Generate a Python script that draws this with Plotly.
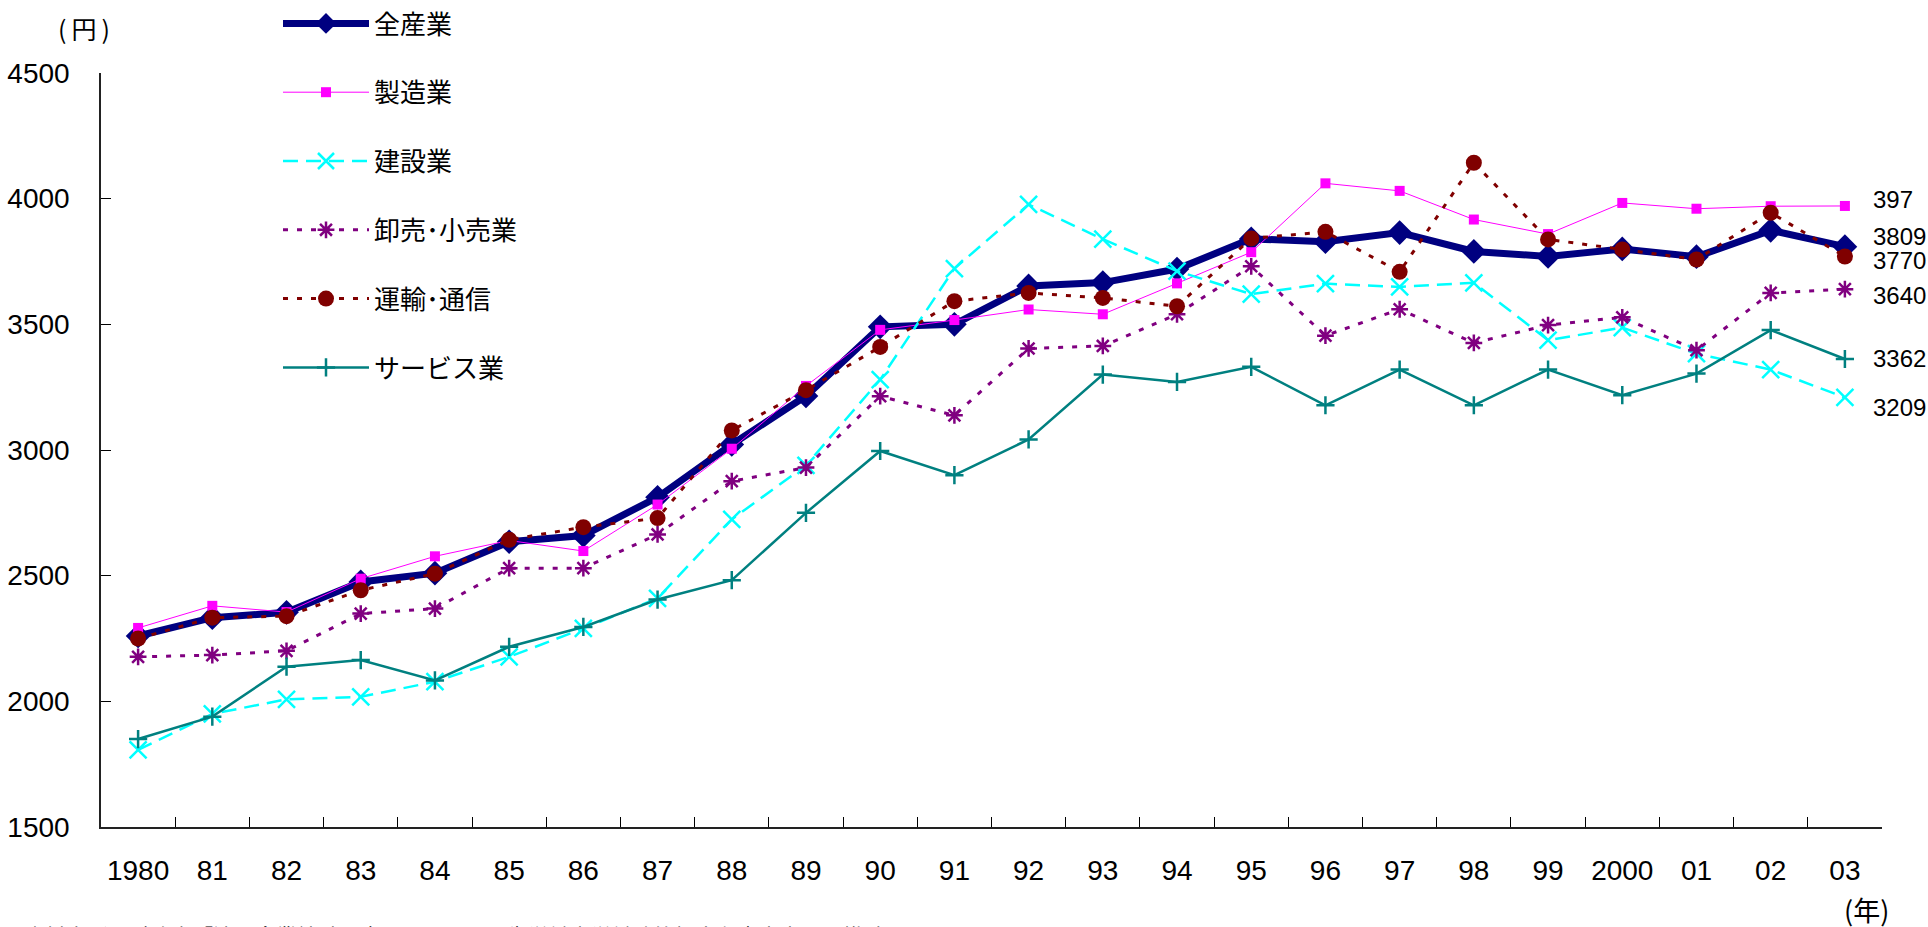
import plotly.graph_objects as go

# 年（カテゴリ軸）
years = ["1980", "81", "82", "83", "84", "85", "86", "87", "88", "89", "90", "91",
         "92", "93", "94", "95", "96", "97", "98", "99", "2000", "01", "02", "03"]

# 産業別の値（円）
zen_sangyo = [2260, 2333, 2354, 2475, 2510, 2635, 2660, 2812, 3022, 3215, 3490, 3500,
              3653, 3666, 3720, 3840, 3829, 3865, 3790, 3770, 3800, 3769, 3874, 3809]
seizo = [2292, 2380, 2355, 2488, 2577, 2640, 2598, 2783, 3005, 3255, 3478, 3517,
         3559, 3540, 3663, 3787, 4061, 4031, 3917, 3859, 3983, 3960, 3970, 3971]
kensetsu = [1807, 1950, 2008, 2018, 2078, 2177, 2290, 2410, 2724, 2939, 3280, 3722,
            3977, 3839, 3712, 3620, 3662, 3649, 3665, 3437, 3487, 3383, 3320, 3209]
oroshi_kouri = [2177, 2184, 2201, 2349, 2369, 2530, 2530, 2664, 2876, 2930, 3214, 3138,
                3404, 3414, 3540, 3731, 3455, 3560, 3426, 3497, 3528, 3397, 3625, 3640]
unyu_tsushin = [2250, 2333, 2339, 2442, 2508, 2643, 2693, 2729, 3078, 3238, 3410, 3592,
                3625, 3605, 3572, 3842, 3868, 3709, 4143, 3838, 3798, 3758, 3944, 3770]
service = [1850, 1939, 2138, 2164, 2083, 2217, 2296, 2405, 2482, 2750, 2996, 2900,
           3042, 3300, 3271, 3331, 3178, 3320, 3178, 3320, 3218, 3304, 3477, 3362]

# 系列名
names = ["全産業", "製造業", "建設業", "卸売･小売業", "運輸･通信", "サービス業"]

# 右端のラベル文字と対応する系列
end_label_texts = ["397", "3809", "3770", "3640", "3362", "3209"]
end_label_series = [seizo, zen_sangyo, unyu_tsushin, oroshi_kouri, service, kensetsu]

# y 軸
y_min, y_max, y_step = 1500, 4500, 500

FONT_NUM = "Liberation Sans, Arial, Noto Sans CJK JP, sans-serif"
FONT_JP = "Noto Sans CJK JP, sans-serif"

# 図と描画領域の寸法（px）
W, H = 1928, 927
M_L, M_R, M_T, M_B = 101, 46, 73, 100
PW, PH = W - M_L - M_R, H - M_T - M_B


def px_to_paper(px, py):
    """図の左上からの px 位置を描画領域基準の paper 座標へ変換"""
    return (px - M_L) / PW, (H - M_B - py) / PH


styles = [
    dict(color="#000080", width=7, dash="solid", symbol="diamond", size=19, mline=0),
    dict(color="#FF00FF", width=1, dash="solid", symbol="square", size=10, mline=0),
    dict(color="#00FFFF", width=2.5, dash="15px,8px", symbol="x-thin", size=17, mline=2.5),
    dict(color="#800080", width=3, dash="5px,9px", symbol="asterisk", size=14, mline=2.5),
    dict(color="#800000", width=3, dash="5px,9px", symbol="circle", size=16, mline=0),
    dict(color="#008080", width=2.5, dash="solid", symbol="cross-thin", size=13, mline=2.5),
]

series = [zen_sangyo, seizo, kensetsu, oroshi_kouri, unyu_tsushin, service]

fig = go.Figure()
for i, (name, vals, st) in enumerate(zip(names, series, styles)):
    fig.add_trace(go.Scatter(
        x=years, y=vals, name=name, mode="lines+markers",
        legendgroup=f"g{i}",
        line=dict(color=st["color"], width=st["width"], dash=st["dash"]),
        marker=dict(symbol=st["symbol"], size=st["size"], color=st["color"],
                    line=dict(color=st["color"], width=st["mline"])),
        cliponaxis=False,
    ))

# 右端の値ラベル（最終年の点の右側）
last_idx = len(years) - 1
label_yshift = [6, 10, -4, -6, 1, -10]
for txt, vals, ys in zip(end_label_texts, end_label_series, label_yshift):
    fig.add_annotation(x=last_idx, y=vals[-1], xref="x", yref="y", text=txt,
                       showarrow=False, xanchor="left", yanchor="middle",
                       xshift=26, yshift=ys,
                       font=dict(family=FONT_NUM, size=24, color="#000000"))

# 単位
ux, uy = px_to_paper(84, 28)
fig.add_annotation(x=ux, y=uy, xref="paper", yref="paper",
                   text="(\u2009円\u2009)", showarrow=False, xanchor="center", yanchor="middle",
                   font=dict(family=FONT_JP, size=25, color="#000000"))
nx, ny = px_to_paper(1866, 909)
fig.add_annotation(x=nx, y=ny, xref="paper", yref="paper",
                   text="(年)", showarrow=False, xanchor="center", yanchor="middle",
                   font=dict(family=FONT_JP, size=27, color="#000000"))
# 資料出所
sx, sy = px_to_paper(22, 918)
fig.add_annotation(x=sx, y=sy, xref="paper", yref="paper",
                   text="資料出所　財務省「法人企業統計調査」をもとに厚生労働省労働政策担当参事官室にて推計",
                   showarrow=False, xanchor="left", yanchor="top",
                   font=dict(family=FONT_JP, size=21, color="#000000"))

lx, ly = px_to_paper(278, 0)
fig.update_layout(
    width=W, height=H,
    margin=dict(l=M_L, r=M_R, t=M_T, b=M_B, pad=0, autoexpand=False),
    paper_bgcolor="#FFFFFF", plot_bgcolor="#FFFFFF",
    font=dict(family=FONT_NUM, color="#000000"),
    showlegend=True,
    legend=dict(
        x=lx, y=ly, xref="paper", yref="paper",
        xanchor="left", yanchor="top",
        font=dict(family=FONT_JP, size=26, color="#000000"),
        itemwidth=86, tracegroupgap=32,
        bgcolor="rgba(0,0,0,0)", borderwidth=0,
        itemclick=False, itemdoubleclick=False,
    ),
    xaxis=dict(
        type="category", categoryorder="array", categoryarray=years,
        range=[-0.5, len(years) - 0.5],
        tickmode="array", tickvals=years, ticktext=years, tickangle=0,
        tickson="boundaries", ticks="inside", ticklen=10, tickwidth=1, tickcolor="#000000",
        showline=True, linecolor="#222222", linewidth=1.5,
        showgrid=False, zeroline=False, automargin=False,
        tickfont=dict(family=FONT_NUM, size=28, color="#000000"),
        ticklabelstandoff=18,
    ),
    yaxis=dict(
        range=[y_min, y_max], dtick=y_step, tick0=y_min,
        ticks="inside", ticklen=10, tickwidth=1, tickcolor="#000000",
        showline=True, linecolor="#222222", linewidth=1.5,
        showgrid=False, zeroline=False, automargin=False,
        tickfont=dict(family=FONT_NUM, size=28, color="#000000"),
        ticklabelstandoff=24,
    ),
)

fig.write_html("out.html")
